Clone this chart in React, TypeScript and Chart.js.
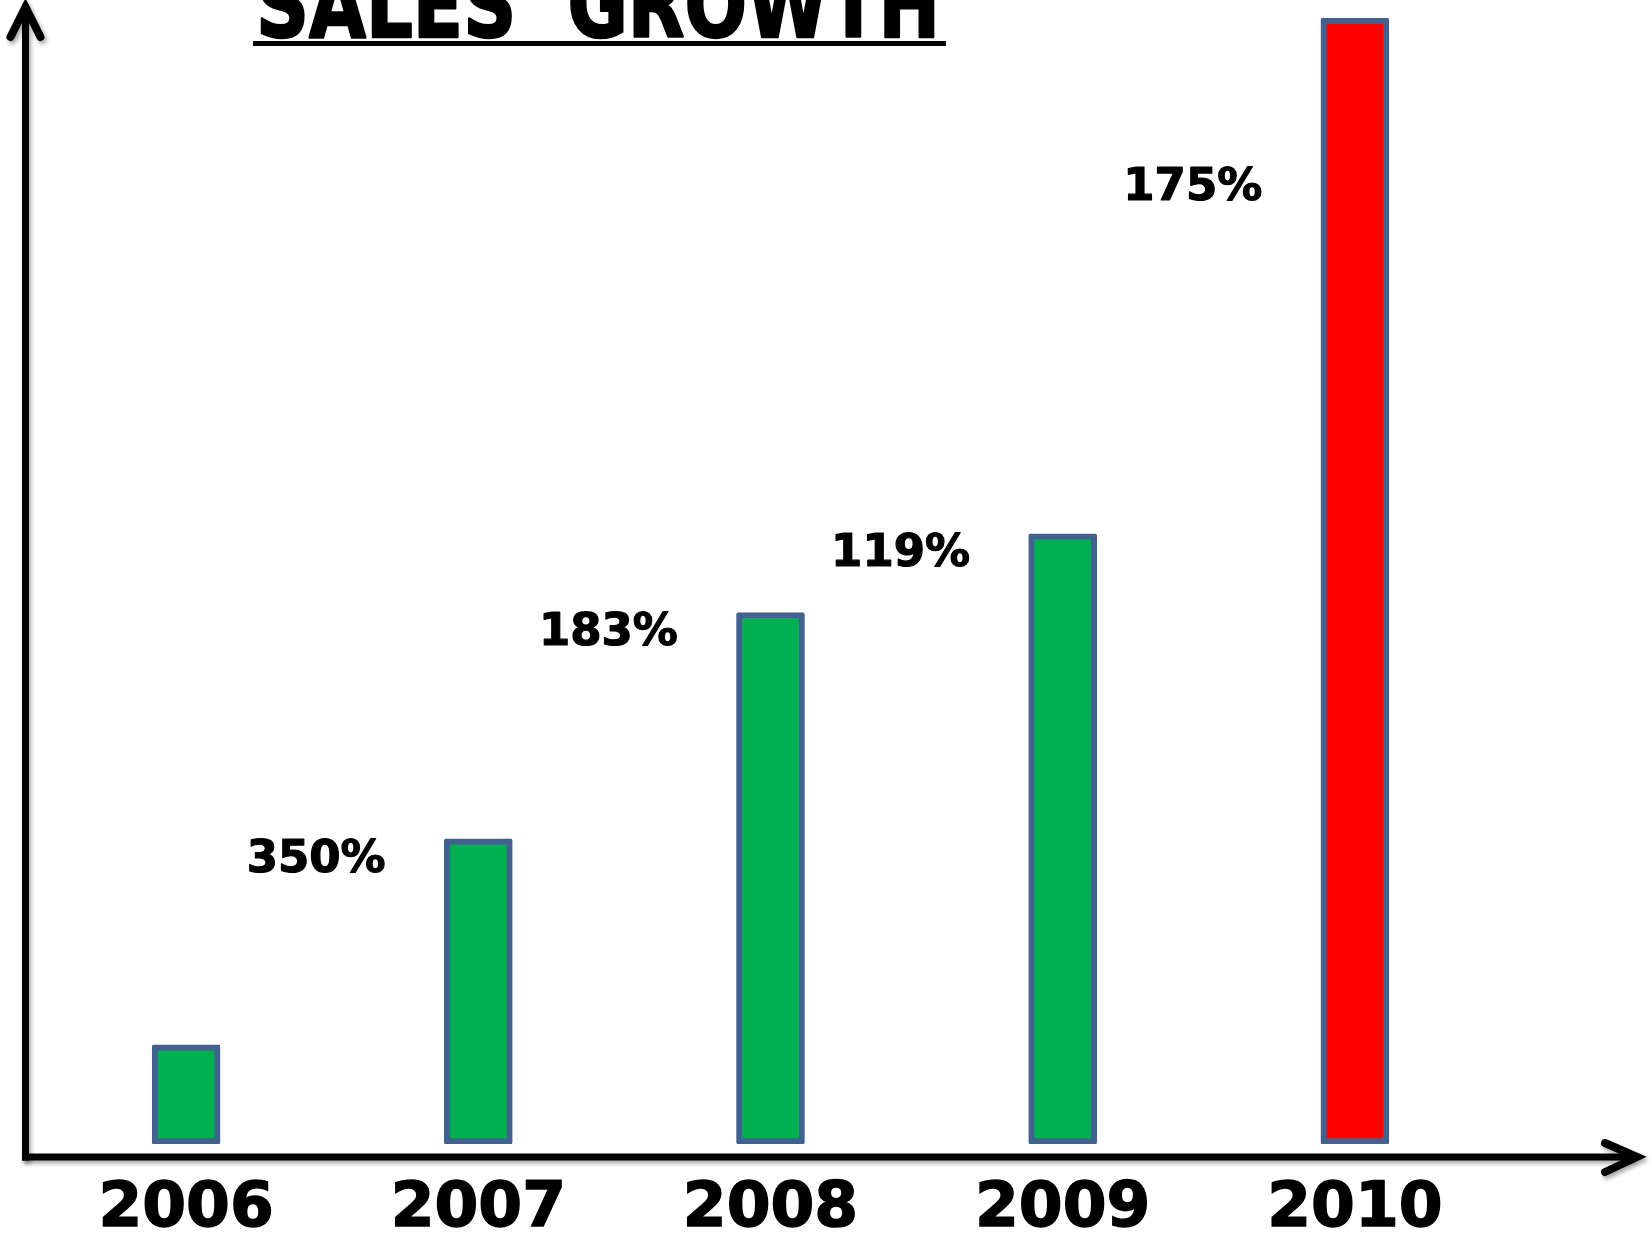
import React, { useEffect, useRef } from "react";
import { Chart, registerables } from "chart.js";

Chart.register(...registerables);

const years = ["2006", "2007", "2008", "2009", "2010"];
const sales = [8.8, 27.1, 47.2, 54.2, 100];
const growthLabels = ["", "350%", "183%", "119%", "175%"];
const barColors = ["#00B050", "#00B050", "#00B050", "#00B050", "#FF0000"];
const titleText = "SALES  GROWTH";

const FONT = '"DejaVu Sans", "Liberation Sans", sans-serif';

const decorPlugin = {
  id: "decor",
  afterDatasetsDraw(chart: any) {
    const { ctx, chartArea } = chart;
    const meta = chart.getDatasetMeta(0);
    ctx.save();
    ctx.font = `bold 45px ${FONT}`;
    ctx.fillStyle = "#000";
    ctx.strokeStyle = "#000";
    ctx.lineWidth = 1.2;
    ctx.lineJoin = "round";
    ctx.textAlign = "center";
    ctx.textBaseline = "middle";
    growthLabels.forEach((t, i) => {
      if (!t || i === 0) return;
      const prev = meta.data[i - 1];
      const bar = meta.data[i];
      const x = (prev.x + bar.x) / 2 - 16;
      const y = Math.max(bar.y + 21, chartArea.top + 170);
      ctx.strokeText(t, x, y);
      ctx.fillText(t, x, y);
    });
    ctx.restore();
  },
  afterDraw(chart: any) {
    const { ctx, chartArea, width } = chart;
    const axisX = chartArea.left - 14.5;
    const axisY = chartArea.bottom + 13;
    const tipX = width - 14;
    ctx.save();
    ctx.strokeStyle = "#000";
    ctx.lineWidth = 7;
    ctx.lineJoin = "miter";
    ctx.shadowColor = "rgba(0,0,0,0.35)";
    ctx.shadowBlur = 4;
    ctx.shadowOffsetX = 2;
    ctx.shadowOffsetY = 3;
    // y axis
    ctx.beginPath();
    ctx.lineCap = "butt";
    ctx.moveTo(axisX, axisY + 3.5);
    ctx.lineTo(axisX, 10);
    ctx.stroke();
    ctx.lineCap = "round";
    ctx.lineWidth = 8;
    ctx.beginPath();
    ctx.moveTo(axisX - 15, 37);
    ctx.lineTo(axisX, 7);
    ctx.lineTo(axisX + 15, 37);
    ctx.stroke();
    // x axis
    ctx.lineWidth = 7;
    ctx.beginPath();
    ctx.lineCap = "butt";
    ctx.moveTo(axisX - 3.5, axisY);
    ctx.lineTo(tipX - 4, axisY);
    ctx.stroke();
    ctx.lineCap = "round";
    ctx.lineWidth = 8;
    ctx.beginPath();
    ctx.moveTo(tipX - 32, axisY - 14);
    ctx.lineTo(tipX, axisY);
    ctx.lineTo(tipX - 32, axisY + 15);
    ctx.stroke();
    ctx.restore();

    // title
    ctx.save();
    ctx.font = `bold 93px ${FONT}`;
    ctx.fillStyle = "#000";
    ctx.strokeStyle = "#000";
    ctx.lineWidth = 2.5;
    ctx.lineJoin = "round";
    ctx.textAlign = "left";
    ctx.textBaseline = "alphabetic";
    const tx = 256;
    const tw = 684;
    const m = ctx.measureText(titleText).width;
    const s = tw / m;
    ctx.translate(tx, 37);
    ctx.scale(s, 1);
    ctx.strokeText(titleText, 0, 0);
    ctx.fillText(titleText, 0, 0);
    ctx.restore();
    ctx.save();
    ctx.fillStyle = "#000";
    ctx.fillRect(253, 41, 693, 5);
    ctx.restore();
  },
};

export default function App() {
  const ref = useRef<HTMLCanvasElement | null>(null);
  useEffect(() => {
    document.body.style.margin = "0";
    const chart = new Chart(ref.current as HTMLCanvasElement, {
      type: "bar",
      data: {
        labels: years,
        datasets: [
          {
            data: sales,
            backgroundColor: barColors,
            borderColor: "#41628F",
            borderWidth: 6,
            borderRadius: 2,
            borderSkipped: false,
            barThickness: 68,
          },
        ],
      },
      options: {
        animation: false,
        responsive: true,
        maintainAspectRatio: false,
        layout: { padding: { left: 40, right: 150, top: 18, bottom: 0 } },
        plugins: {
          legend: { display: false },
          tooltip: { enabled: false },
          title: { display: false },
        },
        scales: {
          x: {
            grid: { display: false },
            border: { display: false },
            ticks: {
              color: "#000",
              padding: 20,
              textStrokeColor: "#000",
              textStrokeWidth: 1.5,
              font: { family: FONT, weight: "bold", size: 63 },
            },
            afterFit: (s: any) => {
              s.height = 91;
            },
          },
          y: {
            display: false,
            min: 0,
            max: 100,
          },
        },
      },
      plugins: [decorPlugin],
    });
    return () => chart.destroy();
  }, []);
  return (
    <div style={{ position: "fixed", left: 0, top: 0, width: 1651, height: 1235, background: "#fff" }}>
      <canvas ref={ref} />
    </div>
  );
}
